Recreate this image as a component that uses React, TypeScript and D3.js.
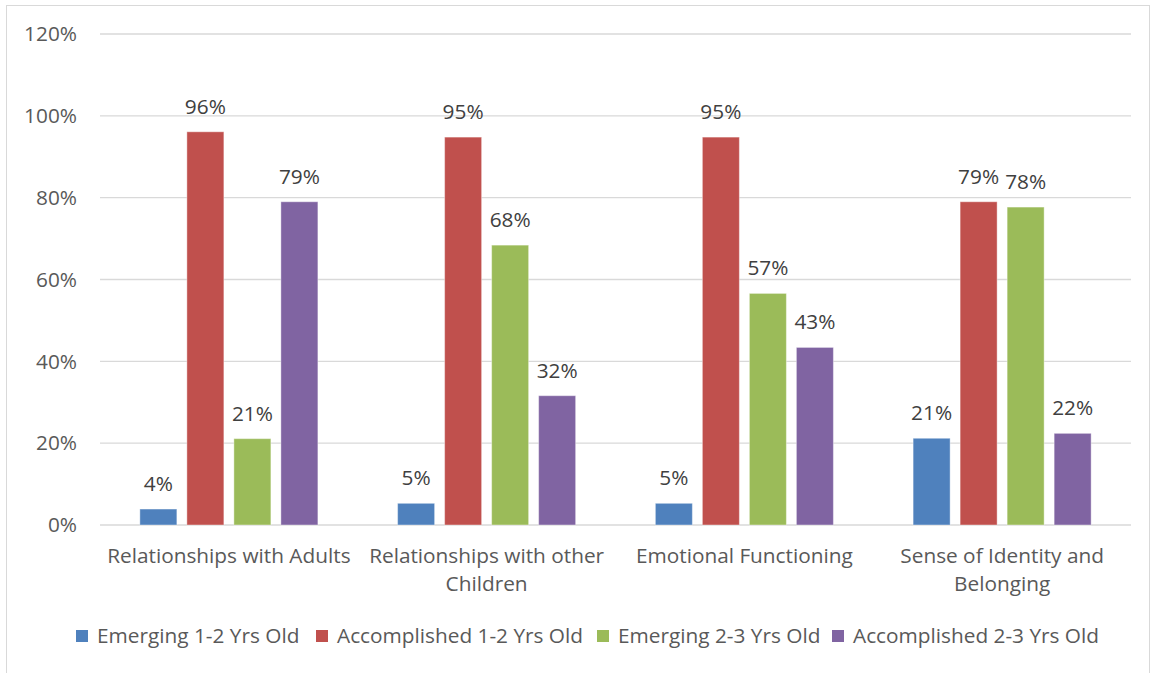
import React from "react";
import * as d3 from "d3";

const categories = [
  ["Relationships with Adults"],
  ["Relationships with other", "Children"],
  ["Emotional Functioning"],
  ["Sense of Identity and", "Belonging"],
];
const seriesNames = [
  "Emerging 1-2 Yrs Old",
  "Accomplished 1-2 Yrs Old",
  "Emerging 2-3 Yrs Old",
  "Accomplished 2-3 Yrs Old",
];
const seriesColors = ["#4F81BD", "#C0504D", "#9BBB59", "#8064A2"];
const emerging12 = [3.9, 5.3, 5.3, 21.2];
const accomplished12 = [96.1, 94.8, 94.8, 79.0];
const emerging23 = [21.1, 68.4, 56.6, 77.7];
const accomplished23 = [79.0, 31.6, 43.4, 22.4];
const seriesValues = [emerging12, accomplished12, emerging23, accomplished23];
const yTicks = [0, 20, 40, 60, 80, 100, 120];

const W = 1151;
const H = 673;
const FONT = "'Open Sans', Lato, sans-serif";
const TXT = "#595959";
const FS = 20.8;

export default function App() {
  const left = 100, right = 1131, top = 34, bottom = 525;
  const y = d3.scaleLinear().domain([0, 120]).range([bottom, top]);
  const x0 = d3.scaleBand<number>().domain(d3.range(categories.length)).range([left, right]).paddingInner(0).paddingOuter(0);
  const x1 = d3.scaleBand<number>().domain(d3.range(seriesNames.length)).range([0, x0.bandwidth()]).paddingInner(0.213).paddingOuter(0.848);

  const legendX = [76, 316, 597, 832];

  return (
    <svg width={W} height={H} style={{ position: "absolute", left: 0, top: 0, display: "block" }} fontFamily={FONT}>
      <rect x={0} y={0} width={W} height={H} fill="#fff" />
      <rect x={6.5} y={5.5} width={W - 8} height={H - 5} fill="#fff" stroke="#D9D9D9" strokeWidth={1} />
      {yTicks.map((t) => (
        <g key={t}>
          <line x1={left} x2={right} y1={y(t)} y2={y(t)} stroke="#D9D9D9" strokeWidth={1.3} />
          <text x={77} y={y(t)} dy="0.35em" textAnchor="end" fontSize={FS} fill={TXT}>{t}%</text>
        </g>
      ))}
      {categories.map((cat, ci) => (
        <g key={ci} transform={`translate(${x0(ci)},0)`}>
          {seriesValues.map((vals, si) => {
            const v = vals[ci];
            const bx = x1(si)!;
            return (
              <g key={si}>
                <rect x={bx} y={y(v)} width={x1.bandwidth()} height={bottom - y(v)} fill={seriesColors[si]} stroke="#fff" strokeOpacity={0.4} strokeWidth={1} />
                <text x={bx + x1.bandwidth() / 2} y={y(v) - 18} textAnchor="middle" fontSize={FS} fill="#404040">{Math.round(v)}%</text>
              </g>
            );
          })}
          {cat.map((line, li) => (
            <text key={li} x={x0.bandwidth() / 2} y={556 + li * 28} dy="0.35em" textAnchor="middle" fontSize={FS} fill={TXT}>{line}</text>
          ))}
        </g>
      ))}
      {seriesNames.map((n, i) => (
        <g key={n}>
          <rect x={legendX[i]} y={630} width={12} height={12} fill={seriesColors[i]} />
          <text x={legendX[i] + 21} y={636} dy="0.35em" fontSize={FS} fill={TXT}>{n}</text>
        </g>
      ))}
    </svg>
  );
}
